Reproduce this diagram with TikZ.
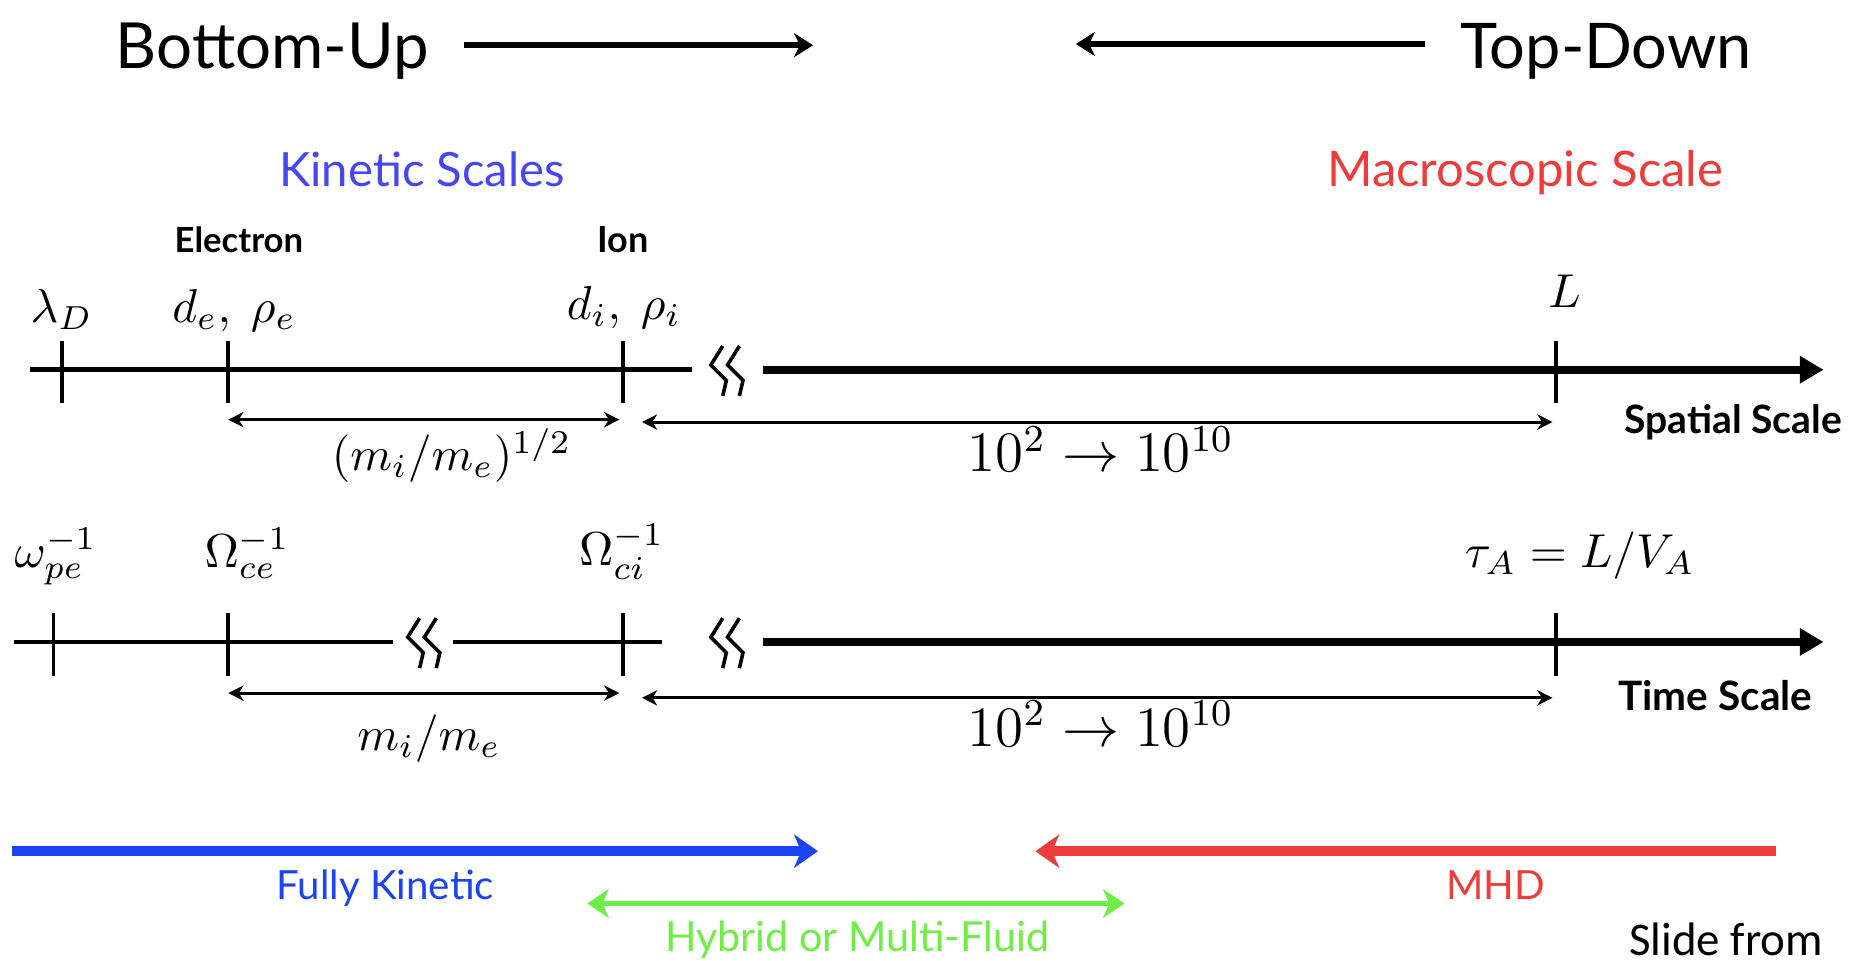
\documentclass[tikz,border=0pt]{standalone}
\usepackage{fontspec}
\setmainfont{Lato}
\newfontfamily\slidefont{Carlito}
\usetikzlibrary{arrows.meta}
\newlength\myu \setlength\myu{0.25pt}
\newcommand{\fw}[2]{\resizebox{#1\myu}{!}{#2}}
\definecolor{kblue}{RGB}{70,70,245}
\definecolor{ablue}{RGB}{26,68,242}
\definecolor{mred}{RGB}{238,60,58}
\definecolor{hgreen}{RGB}{110,238,70}
\begin{document}
\begin{tikzpicture}[x=0.25pt,y=-0.25pt,
  lbl/.style={inner sep=0pt,anchor=base},
  axisline/.style={line width=4\myu},
  thickaxis/.style={line width=7\myu,-{Triangle[length=5pt,width=5.5pt]}},
  tickline/.style={line width=3\myu},
  dimarrow/.style={line width=2.5\myu,{Stealth[length=3.2pt,width=3.2pt,inset=1pt]}-{Stealth[length=3.2pt,width=3.2pt,inset=1pt]}},
  toparrow/.style={line width=5\myu,-{Stealth[length=4pt,width=5pt,inset=1.2pt]}},
  bigarrow/.style={line width=8\myu,-{Stealth[length=5pt,width=7pt,inset=1.5pt]}},
  brkline/.style={line width=3\myu},
  axisbreak/.pic={
    \draw[brkline] (10,-20)--(0,-4)--(13,9)--(10,22);
    \draw[brkline] (24,-20)--(14,-4)--(27,9)--(24,22);
  }]
\useasboundingbox (0,0) rectangle (1568,808);

% ---------- top ----------
\node[lbl] (bu) at (229,58) {\fw{263}{Bottom-Up}};
\node[lbl] (td) at (1351,58) {\fw{245}{Top-Down}};
\coordinate (bua) at (390,38); \coordinate (bub) at (684,38);
\coordinate (tda) at (1199,37); \coordinate (tdb) at (905,37);
\draw[toparrow] (bua) -- (bub);
\draw[toparrow] (tda) -- (tdb);

\node[lbl,text=kblue] (ks) at (355,157) {\fw{240}{Kinetic Scales}};
\node[lbl,text=mred] (ms) at (1283,157) {\fw{333}{Macroscopic Scale}};

\node[lbl] (el) at (201,212) {\fw{108}{\bfseries Electron}};
\node[lbl] (io) at (524,212) {\fw{43}{\bfseries Ion}};

% ---------- spatial axis ----------
\node[lbl] (lD) at (52,271) {$\lambda_D$};
\node[lbl] (de) at (197,271) {$d_e,\ \rho_e$};
\node[lbl] (di) at (525,269) {$d_i,\ \rho_i$};
\node[lbl] (L) at (1316,259) {$L$};

\coordinate (s0) at (25,311); \coordinate (s1) at (582,311);
\coordinate (s2) at (642,311); \coordinate (s3) at (1534,311);
\draw[axisline] (s0) -- (s1);
\pic at (598,311) {axisbreak};
\draw[thickaxis] (s2) -- (s3);
\foreach \n/\x in {sa/52,sb/192,sc/524,sd/1309}{
  \coordinate (\n t) at (\x,287); \coordinate (\n b) at (\x,339);
  \draw[tickline] (\n t) -- (\n b);
}
\coordinate (d1a) at (192,353); \coordinate (d1b) at (521,353);
\coordinate (d2a) at (540,355); \coordinate (d2b) at (1306,355);
\draw[dimarrow] (d1a) -- (d1b);
\draw[dimarrow] (d2a) -- (d2b);
\node[lbl] (mm1) at (380,396) {$(m_i/m_e)^{1/2}$};
\node[lbl] (rr1) at (926,397) {\large $10^2\rightarrow10^{10}$};
\node[lbl] (ss) at (1458,365) {\fw{183}{\bfseries Spatial Scale}};

% ---------- time axis ----------
\node[lbl] (wpe) at (47,477) {$\omega_{pe}^{-1}$};
\node[lbl] (Oce) at (208,477) {$\Omega_{ce}^{-1}$};
\node[lbl] (Oci) at (523,476) {$\Omega_{ci}^{-1}$};
\node[lbl] (tA) at (1329,477) {$\tau_A=L/V_A$};

\coordinate (t0) at (12,540); \coordinate (t1) at (331,540);
\coordinate (t2) at (381,540); \coordinate (t3) at (557,540);
\coordinate (t4) at (642,540); \coordinate (t5) at (1534,540);
\draw[axisline] (t0) -- (t1);
\pic at (343,540) {axisbreak};
\draw[axisline] (t2) -- (t3);
\pic at (598,540) {axisbreak};
\draw[thickaxis] (t4) -- (t5);
\foreach \n/\x in {ta/45,tb/192,tc/524,td/1309}{
  \coordinate (\n t) at (\x,516); \coordinate (\n b) at (\x,569);
  \draw[tickline] (\n t) -- (\n b);
}
\coordinate (e1a) at (192,583); \coordinate (e1b) at (521,583);
\coordinate (e2a) at (540,587); \coordinate (e2b) at (1306,587);
\draw[dimarrow] (e1a) -- (e1b);
\draw[dimarrow] (e2a) -- (e2b);
\node[lbl] (mm2) at (361,631) {$m_i/m_e$};
\node[lbl] (rr2) at (926,628) {\large $10^2\rightarrow10^{10}$};
\node[lbl] (tsc) at (1443,598) {\fw{163}{\bfseries Time Scale}};

% ---------- models ----------
\coordinate (fka) at (10,716); \coordinate (fkb) at (688,716);
\draw[bigarrow,draw=ablue] (fka) -- (fkb);
\node[lbl,text=ablue] (fk) at (324,757) {\fw{183}{Fully Kinetic}};

\coordinate (mha) at (1494,716); \coordinate (mhb) at (871,716);
\draw[bigarrow,draw=mred] (mha) -- (mhb);
\node[lbl,text=mred] (mhd) at (1258,757) {\fw{83}{MHD}};

\coordinate (hya) at (494,760); \coordinate (hyb) at (946,760);
\draw[draw=hgreen,line width=5\myu,{Stealth[length=4.5pt,width=6pt,inset=1.3pt]}-{Stealth[length=4.5pt,width=6pt,inset=1.3pt]}] (hya) -- (hyb);
\node[lbl,text=hgreen] (hy) at (721,800) {\fw{323}{Hybrid or Multi-Fluid}};

\node[lbl] (sf) at (1452,804) {\fw{163}{\slidefont Slide from}};
\end{tikzpicture}
\end{document}
